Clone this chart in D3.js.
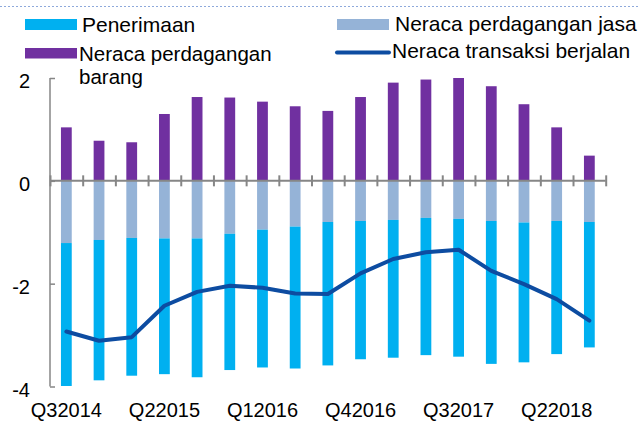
<!DOCTYPE html>
<html lang="id">
<head>
    <meta charset="UTF-8">
    <title></title>
    <style>
        body { margin: 0; background: #fff; }
        text { font-family: "Liberation Sans", Arial, sans-serif; fill: #000; }
    </style>
</head>
<body>
<script src="https://d3js.org/d3.v7.min.js"></script>
<script>
    var width = 639,
        height = 421;

    // kuartal
    var categories = ['Q32014', 'Q42014', 'Q12015', 'Q22015', 'Q32015', 'Q42015',
                      'Q12016', 'Q22016', 'Q32016', 'Q42016', 'Q12017', 'Q22017',
                      'Q32017', 'Q42017', 'Q12018', 'Q22018', 'Q32018'];
    var tickLabels = ['Q32014', 'Q22015', 'Q12016', 'Q42016', 'Q32017', 'Q22018'];
    var yTicks = [2, 0, -2, -4];

    // nilai tiap seri
    var barang = [1.04, 0.78, 0.75, 1.30, 1.63, 1.62, 1.54, 1.45, 1.36,
                  1.63, 1.91, 1.97, 2.00, 1.84, 1.49, 1.04, 0.49];
    var jasa = [-1.21, -1.15, -1.11, -1.12, -1.12, -1.03, -0.95, -0.89, -0.80,
                -0.78, -0.76, -0.72, -0.74, -0.78, -0.81, -0.78, -0.80];
    var penerimaan = [-2.78, -2.73, -2.68, -2.64, -2.70, -2.65, -2.68, -2.76, -2.79,
                      -2.69, -2.68, -2.67, -2.68, -2.78, -2.72, -2.59, -2.44];
    var transaksi = [-2.93, -3.11, -3.04, -2.43, -2.16, -2.04, -2.08, -2.19, -2.20,
                     -1.80, -1.52, -1.39, -1.34, -1.75, -2.01, -2.30, -2.72];

    var colors = {
        penerimaan: '#00b0f0',
        jasa: '#95b3d7',
        barang: '#7030a0',
        line: '#0d4ca1',
        axis: '#868686'
    };

    var svg = d3.select('body').append('svg')
                .attr('width', width)
                .attr('height', height);

    var x = d3.scaleBand().domain(categories).range([50, 605.7])
              .paddingInner(0.67).paddingOuter(0.335);
    var xEdge = d3.scaleLinear().domain([0, categories.length]).range([50, 605.7]);
    var y = d3.scaleLinear().domain([-4, 2]).range([386.5, 78]);

    // garis putus-putus di atas
    svg.append('line')
       .attr('x1', 0).attr('x2', width)
       .attr('y1', 6.5).attr('y2', 6.5)
       .attr('stroke', '#8ea9db')
       .attr('stroke-width', 1)
       .attr('stroke-dasharray', '2,2');

    // batang
    var rows = categories.map(function(c, i) {
        return {cat: c, barang: barang[i], jasa: jasa[i], penerimaan: penerimaan[i]};
    });

    var bars = svg.append('g').attr('class', 'bars');
    bars.selectAll('rect.barang').data(rows).enter().append('rect')
        .attr('x', function(d) { return x(d.cat); })
        .attr('width', x.bandwidth())
        .attr('y', function(d) { return y(d.barang); })
        .attr('height', function(d) { return y(0) - y(d.barang); })
        .attr('fill', colors.barang);
    bars.selectAll('rect.jasa').data(rows).enter().append('rect')
        .attr('x', function(d) { return x(d.cat); })
        .attr('width', x.bandwidth())
        .attr('y', y(0))
        .attr('height', function(d) { return y(d.jasa) - y(0); })
        .attr('fill', colors.jasa);
    bars.selectAll('rect.penerimaan').data(rows).enter().append('rect')
        .attr('x', function(d) { return x(d.cat); })
        .attr('width', x.bandwidth())
        .attr('y', function(d) { return y(d.jasa); })
        .attr('height', function(d) { return y(d.jasa + d.penerimaan) - y(d.jasa); })
        .attr('fill', colors.penerimaan);

    // sumbu y
    var yAxis = d3.axisRight(y).tickValues(yTicks).tickSize(5).tickFormat(function(d) { return d; });
    var gy = svg.append('g')
       .attr('class', 'y-axis')
       .attr('transform', 'translate(50,0)')
       .call(yAxis);
    gy.select('.domain').attr('stroke', colors.axis).attr('stroke-width', 1.5)
      .attr('d', 'M0,' + y(2) + 'V' + y(-4));
    gy.selectAll('.tick line').attr('stroke', colors.axis).attr('stroke-width', 1.5);
    gy.selectAll('.tick text')
      .attr('x', -20).attr('dy', '0.48em')
      .attr('text-anchor', 'end')
      .style('font-size', '20px')
      .style('font-family', '"Liberation Sans", Arial, sans-serif')
      .attr('fill', '#000');

    // garis nol dengan tanda di batas kategori
    var zeroAxis = d3.axisBottom(xEdge).tickValues(d3.range(categories.length + 1))
                     .tickSize(5).tickFormat('');
    var gz = svg.append('g')
       .attr('class', 'x-axis')
       .attr('transform', 'translate(0,' + y(0) + ')')
       .call(zeroAxis);
    gz.select('.domain').attr('stroke', colors.axis).attr('stroke-width', 2)
      .attr('d', 'M50,0H605.7');
    gz.selectAll('.tick line').attr('stroke', colors.axis).attr('stroke-width', 2)
      .attr('y1', -5.5).attr('y2', 5.5);

    // label sumbu x
    var xAxis = d3.axisBottom(x).tickValues(tickLabels).tickSize(0);
    var gx = svg.append('g')
       .attr('class', 'x-labels')
       .attr('transform', 'translate(0,417)')
       .call(xAxis);
    gx.select('.domain').remove();
    gx.selectAll('.tick text')
      .attr('y', 0).attr('dy', 0)
      .style('font-size', '20px')
      .style('font-family', '"Liberation Sans", Arial, sans-serif')
      .attr('fill', '#000');

    // garis transaksi berjalan
    var line = d3.line()
        .x(function(d, i) { return x(categories[i]) + x.bandwidth() / 2; })
        .y(function(d) { return y(d); });
    svg.append('path')
       .datum(transaksi)
       .attr('d', line)
       .attr('fill', 'none')
       .attr('stroke', colors.line)
       .attr('stroke-width', 4)
       .attr('stroke-linejoin', 'round')
       .attr('stroke-linecap', 'round');

    // legenda
    var legend = svg.append('g').attr('class', 'legend').style('font-size', '21px');
    legend.append('rect').attr('x', 25).attr('y', 19).attr('width', 52).attr('height', 11)
          .attr('fill', colors.penerimaan);
    legend.append('text').attr('x', 82).attr('y', 32).text('Penerimaan');

    legend.append('rect').attr('x', 25).attr('y', 48).attr('width', 52).attr('height', 10.5)
          .attr('fill', colors.barang);
    var wrap = legend.append('text').attr('x', 79).attr('y', 61).style('font-size', '20.5px');
    wrap.append('tspan').attr('x', 79).text('Neraca perdagangan');
    wrap.append('tspan').attr('x', 79).attr('dy', 23).text('barang');

    legend.append('rect').attr('x', 337).attr('y', 19).attr('width', 52).attr('height', 11)
          .attr('fill', colors.jasa);
    legend.append('text').attr('x', 395).attr('y', 31).text('Neraca perdagangan jasa');

    legend.append('line').attr('x1', 337).attr('x2', 389).attr('y1', 52.5).attr('y2', 52.5)
          .attr('stroke', colors.line).attr('stroke-width', 4).attr('stroke-linecap', 'round');
    legend.append('text').attr('x', 392).attr('y', 58).text('Neraca transaksi berjalan');
</script>
</body>
</html>
